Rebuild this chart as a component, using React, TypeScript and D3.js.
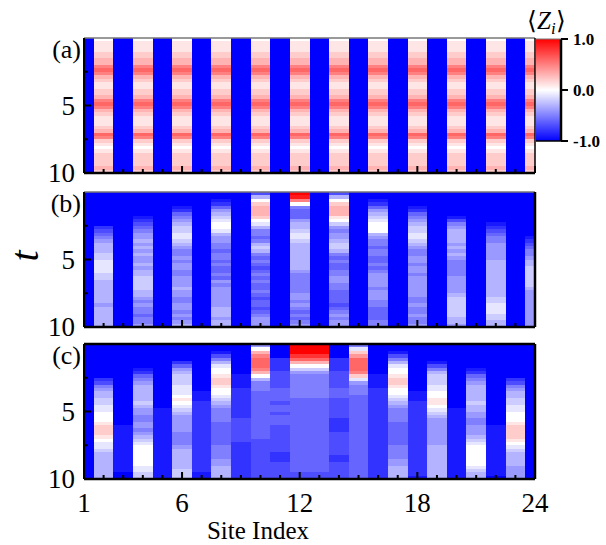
import React from 'react';
import * as d3 from 'd3';

// <Z_i> heatmaps, one string per site, one letter per time step of 0.25
// letter code: A = -1.0, K = 0.0, U = +1.0 (step 0.1)
const sites = [1, 2, 3, 4, 5, 6, 7, 8, 9, 10, 11, 12, 13, 14, 15, 16, 17, 18, 19, 20, 21, 22, 23, 24];
const timeStep = 0.25;
const xTicks = [1, 6, 12, 18, 24];
const yTicks = [5, 10];
const yMinorTicks = [2.5, 7.5];
const colorTicks = [-1, 0, 1];
const colorTickLabels = ['-1.0', '0.0', '1.0'];
const panelLabels = ['(a)', '(b)', '(c)'];

const DOWN = 'AAAAAAAAAAAAAAAAAAAAAAAAAAAAAAAAAAAAAAAA';
const UP_A = 'KLLLMMNNPQPNMLLMMNPQPNMLLLMNQPMLKLMMMMNM';

const panelA = [
  DOWN, UP_A, DOWN, UP_A, DOWN, UP_A, DOWN, UP_A, DOWN, UP_A, DOWN, UP_A,
  DOWN, UP_A, DOWN, UP_A, DOWN, UP_A, DOWN, UP_A, DOWN, UP_A, DOWN, UP_A,
];

const panelB = [
  DOWN,
  'AAAAAAAAAACDEFGHHHIIJJJJIIHHHHHHHGHHHHHH',
  DOWN,
  'AAAAAAABCDEFGGHGHGHGGHGHHIIIIHHGFGFFEFFG',
  DOWN,
  'AAAABCEFGHIIJJIHGFFGFGGFFGGGHGGFFGGFGFGH',
  DOWN,
  'AABCEGHIJKKJHGGFFEFFEFEEFEGFGGGGGGHHHGHH',
  DOWN,
  'DHKMNNNMKJHFFEFHIHFEFEDEFEFEEFEDEEDEFGGG',
  DOWN,
  'UTPKFEEEGHHIJJIHHHHHHHHGFFFFFFGGFGFEFEFG',
  DOWN,
  'DHKMNNNLKIGFGGHIIHFEFEEFFGGFFEEEEDEFGFGG',
  DOWN,
  'AABCEGHIJKKKHGFFEFFEEFEFGGGGFGGGFFEEEEFF',
  DOWN,
  'AAAABCEFGHIIJJIHGFFGGFGGFGGGGGGFFGFFGFFG',
  DOWN,
  'AAAAAAABDFGHHHHGHGHGFFFFFGGGGGHIIIIIIHHG',
  DOWN,
  'AAAAAAAAABCDEFFGGGGGHHHHHHHHHHHIIJJJIIHH',
  DOWN,
  'AAAAAAAAAAAAABCDEFFGHHIIIIIIHGGGGGGGGGGG',
];

const panelC = [
  DOWN,
  'AAAAAAAAAACDFGHHIIJJKKKLMMMLKJJIHHHHHHHH',
  'AAAAAAAAAAAAAAAAAAAAAAAABBBBBBBBBBBBBBAA',
  'AAAAAAABCEFGHHHHHIHGGFFGGFGHIJKKKKKKJJII',
  'AAAAAAAAAAAAAAAAAAABBBBBBBBBBBBBBBBBBBBB',
  'AAAAACEGHIIIJJJKLKJIHGGGGGFFFFGHHHHHHIII',
  'AAAAAAAAAAAAAABBBCCCCCCCCCCCCCCCCCCCCCBB',
  'AABDFHJKKLMMLKKJIHGFFFFEEEEEEEFFFFGGHHHH',
  'AAAAAAAAABBBBCCCCCCCCCDDDDDDDCCCCCCCCCCC',
  'GKNPQQQPNKHFFFEEEEEEEEEEEEEEDDDDDDDDDDDD',
  'AAAACCCCDDDDDEEEEDEEDEEEDDDDDDDDCCCDDDDD',
  'UUUSQNKIGFFFFFFFEEEEEEEEEEEEEEEEEEEEEEDD',
  'UUUSQNKIGFFFFFFFEEEEEEEEEEEEEEEEEEEEEEDD',
  'AAAACCCCDDDDDEEEDDDDDDCCCCDDDDDDDCCDDDDD',
  'FJMOQQQQPMJGFFFEEEEEEEEEEEEEEEEEEEEEEEEE',
  'AAAAAAAAABBBBCCCCCCCCCCCCCCCCCCCCCCCCCCC',
  'AABDFHJKKLMMLKKJIHGFFFFEEEEEEEFFFFGGHHHH',
  'AAAAAAAAAAAAAABBBCCCCCCCCCCCCCCCCCCCCCCB',
  'AAAAABDFHIIIJJKKLLKJIHGGGGGGGGHHHHHHHHHH',
  'AAAAAAAAAAAAAAAAAAABBBBBBBBBBBBBBBBBBBBB',
  'AAAAAAABCEFGHHHHHIHHGGFFGGGHIJKKKKKKJIHH',
  'AAAAAAAAAAAAAAAAAAAAAAAABBBBBBBBBBBBBBBA',
  'AAAAAAAAAACDFGHHIIJJKKKLMMMMLKJIHHHHGGGG',
  DOWN,
];

const panels = [panelA, panelB, panelC];

const decode = (c: string) => (c.charCodeAt(0) - 65 - 10) / 10;

const W = 606;
const H = 545;
const plotLeft = 84;
const plotRight = 535;
const panelTops = [38, 192, 344];
const panelH = 135;
const serif = "'Liberation Serif', 'Times New Roman', serif";

const color = d3.scaleLinear<string>().domain([-1, 0, 1]).range(['#0000ff', '#ffffff', '#ff0000']);
const x = d3.scaleLinear().domain([1, 24]).range([plotLeft, plotRight]);

function Panel({ data, top, label, idx }: { data: string[]; top: number; label: string; idx: number }) {
  const y = d3.scaleLinear().domain([0, 10]).range([top, top + panelH]);
  const clipId = `clip-${idx}`;
  const bottom = top + panelH;
  return (
    <g>
      <defs>
        <clipPath id={clipId}>
          <rect x={plotLeft} y={top} width={plotRight - plotLeft} height={panelH} />
        </clipPath>
      </defs>
      <g clipPath={`url(#${clipId})`} shapeRendering="crispEdges">
        {data.map((col, si) =>
          col.split('').map((ch, ti) => {
            const s = sites[si];
            const y0 = y(ti * timeStep);
            const y1 = y((ti + 1) * timeStep);
            return (
              <rect
                key={`${si}-${ti}`}
                x={x(s - 0.5)}
                y={y0}
                width={x(s + 0.5) - x(s - 0.5)}
                height={y1 - y0}
                fill={color(decode(ch))}
              />
            );
          })
        )}
      </g>
      {/* inward ticks */}
      {sites.map((s) => {
        const major = xTicks.includes(s);
        return (
          <line key={`xt${s}`} x1={x(s)} x2={x(s)} y1={bottom} y2={bottom - (major ? 7 : 4)} stroke="#000" strokeWidth={2} />
        );
      })}
      {yTicks.map((t) => (
        <line key={`yt${t}`} x1={plotLeft} x2={plotLeft + 7} y1={y(t)} y2={y(t)} stroke="#000" strokeWidth={2} />
      ))}
      {yMinorTicks.map((t) => (
        <line key={`ym${t}`} x1={plotLeft} x2={plotLeft + 4} y1={y(t)} y2={y(t)} stroke="#000" strokeWidth={2} />
      ))}
      {/* frame */}
      <line x1={plotLeft} x2={plotRight} y1={top} y2={top} stroke={idx === 2 ? '#000' : '#777'} strokeWidth={idx === 2 ? 2.5 : 1.5} />
      <line x1={plotLeft} x2={plotRight} y1={bottom} y2={bottom} stroke="#000" strokeWidth={2.5} />
      <line x1={plotLeft} x2={plotLeft} y1={top} y2={bottom} stroke="#000" strokeWidth={2} />
      <line x1={plotRight} x2={plotRight} y1={top} y2={bottom} stroke="#000" strokeWidth={idx === 0 ? 1.5 : 2.5} />
      {yTicks.map((t) => (
        <text key={`yl${t}`} x={75} y={y(t)} dy="0.35em" textAnchor="end" fontFamily={serif} fontSize={27}>
          {t}
        </text>
      ))}
      <text x={81} y={top + 20} textAnchor="end" fontFamily={serif} fontSize={26}>
        {label}
      </text>
    </g>
  );
}

export default function App() {
  const cbTop = 39;
  const cbBottom = 141;
  const cbLeft = 536;
  const cbRight = 561;
  const cy = d3.scaleLinear().domain([-1, 1]).range([cbBottom, cbTop]);
  const stops = [-1, -0.5, 0, 0.5, 1];
  const lastBottom = panelTops[2] + panelH;
  return (
    <svg width={W} height={H} style={{ position: 'absolute', left: 0, top: 0, background: '#fff' }}>
      {panels.map((p, i) => (
        <Panel key={i} data={p} top={panelTops[i]} label={panelLabels[i]} idx={i} />
      ))}

      {/* x axis labels */}
      {xTicks.map((t) => (
        <text key={`xl${t}`} x={x(t)} y={lastBottom + 33} textAnchor="middle" fontFamily={serif} fontSize={27}>
          {t}
        </text>
      ))}
      <text x={258} y={539} textAnchor="middle" fontFamily={serif} fontSize={25}>
        Site Index
      </text>
      <text
        transform={`translate(38, 256) rotate(-90)`}
        textAnchor="middle"
        fontFamily={serif}
        fontStyle="italic"
        fontSize={40}
      >
        t
      </text>

      {/* colorbar */}
      <defs>
        <linearGradient id="cbgrad" x1="0" y1="1" x2="0" y2="0">
          {stops.map((v) => (
            <stop key={v} offset={`${((v + 1) / 2) * 100}%`} stopColor={color(v)} />
          ))}
        </linearGradient>
      </defs>
      <rect x={cbLeft} y={cbTop} width={cbRight - cbLeft} height={cbBottom - cbTop} fill="url(#cbgrad)" />
      <line x1={cbRight} x2={cbRight} y1={cbTop} y2={cbBottom} stroke="#000" strokeWidth={2.5} />
      <line x1={cbLeft} x2={cbRight} y1={cbBottom} y2={cbBottom} stroke="#000" strokeWidth={1.5} />
      <line x1={cbLeft} x2={cbRight} y1={cbTop} y2={cbTop} stroke="#777" strokeWidth={1} />
      {colorTicks.map((v, i) => (
        <g key={`cb${v}`}>
          <line x1={cbRight} x2={cbRight + 7} y1={cy(v)} y2={cy(v)} stroke="#000" strokeWidth={2} />
          <text x={573} y={cy(v)} dy="0.35em" fontFamily={serif} fontWeight="bold" fontSize={17}>
            {colorTickLabels[i]}
          </text>
        </g>
      ))}
      <text x={527} y={29} fontFamily={serif} fontSize={25}>
        <tspan>⟨</tspan>
        <tspan fontStyle="italic">Z</tspan>
        <tspan fontStyle="italic" fontSize={17} dy={5}>
          i
        </tspan>
        <tspan dy={-5}>⟩</tspan>
      </text>
    </svg>
  );
}
